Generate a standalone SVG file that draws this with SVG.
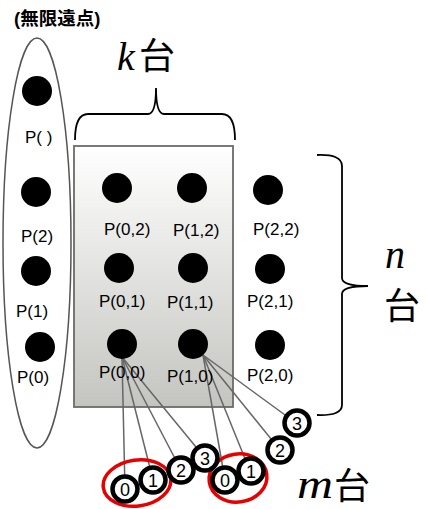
<svg xmlns="http://www.w3.org/2000/svg" width="427" height="509" viewBox="0 0 427 509">
<defs>
<linearGradient id="g" x1="0" y1="0" x2="0" y2="1">
<stop offset="0" stop-color="#ffffff"/>
<stop offset="1" stop-color="#c4c4c0"/>
</linearGradient>
<style>
.lbl{font-family:"Liberation Sans",Arial,sans-serif;font-size:17px;fill:#000}
.dot{fill:#000}
.num{fill:#fff;stroke:#000;stroke-width:4.5}
.numt{font-family:"Liberation Sans",Arial,sans-serif;font-size:18px;text-anchor:middle;fill:#000}
.conn{stroke:#666;stroke-width:1.5;fill:none}
.brace{stroke:#000;stroke-width:1.8;fill:none}
.math{font-family:"Liberation Serif","Times New Roman",serif;font-style:italic;font-size:40px;fill:#000}
.cjk{font-family:"Noto Sans CJK JP","Noto Sans CJK SC",sans-serif;font-size:36px;fill:#000}
.red{fill:none;stroke:#e60000;stroke-width:3.5}
</style>
</defs>
<rect width="427" height="509" fill="#fff"/>
<text x="14" y="25" style="font-family:'Liberation Sans','Noto Sans CJK JP',sans-serif;font-size:18.5px;font-weight:bold">(無限遠点)</text>
<g id="infinity-group">
<ellipse cx="37" cy="243" rx="34" ry="205" fill="none" stroke="#555" stroke-width="1.5"/>
</g>
<g id="k-box">
<rect x="74" y="146" width="159" height="261" fill="url(#g)" stroke="#6b6b68" stroke-width="1.8"/>
</g>
<g id="braces">
<path class="brace" d="M75,140 Q75,114 88,114 L148,114 Q156,114 156,88 Q156,114 164,114 L222,114 Q235,114 235,140"/>
<path class="brace" d="M317,155 Q342,154 342,166 L342,278 Q342,286 368,286 Q342,286 342,294 L342,405 Q342,416 317,415"/>
</g>
<g id="label-k">
<text class="math" x="117" y="70">k</text>
<text class="cjk" x="139" y="69">台</text>
</g>
<g id="label-n">
<text class="math" x="385" y="268">n</text>
<text class="cjk" x="384" y="319">台</text>
</g>
<g id="label-m">
<text class="math" x="297" y="498" textLength="36" lengthAdjust="spacingAndGlyphs">m</text>
<text class="cjk" x="334" y="499">台</text>
</g>
<g id="connectors">
<line class="conn" x1="122" y1="357" x2="125" y2="490"/>
<line class="conn" x1="122" y1="357" x2="153" y2="480"/>
<line class="conn" x1="122" y1="357" x2="181" y2="470"/>
<line class="conn" x1="122" y1="357" x2="205" y2="458"/>
<line class="conn" x1="203" y1="355" x2="225" y2="480"/>
<line class="conn" x1="203" y1="355" x2="250" y2="471"/>
<line class="conn" x1="203" y1="355" x2="280" y2="450"/>
<line class="conn" x1="203" y1="355" x2="296" y2="423"/>
</g>
<g id="P-inf"><circle class="dot" cx="37" cy="91" r="15"/><text class="lbl" x="25" y="143">P( )</text></g>
<g id="P2"><circle class="dot" cx="36" cy="192" r="15"/><text class="lbl" x="21" y="242">P(2)</text></g>
<g id="P1"><circle class="dot" cx="36" cy="271" r="15"/><text class="lbl" x="16" y="317">P(1)</text></g>
<g id="P0"><circle class="dot" cx="40" cy="347" r="15"/><text class="lbl" x="17" y="383">P(0)</text></g>
<g id="P02"><circle class="dot" cx="117" cy="188" r="15"/><text class="lbl" x="104" y="235">P(0,2)</text></g>
<g id="P12"><circle class="dot" cx="192" cy="188" r="15"/><text class="lbl" x="173" y="236">P(1,2)</text></g>
<g id="P22"><circle class="dot" cx="268" cy="190" r="15"/><text class="lbl" x="253" y="235">P(2,2)</text></g>
<g id="P01"><circle class="dot" cx="119" cy="268" r="15"/><text class="lbl" x="99" y="307">P(0,1)</text></g>
<g id="P11"><circle class="dot" cx="193" cy="268" r="15"/><text class="lbl" x="167" y="308">P(1,1)</text></g>
<g id="P21"><circle class="dot" cx="270" cy="269" r="15"/><text class="lbl" x="247" y="307">P(2,1)</text></g>
<g id="P00"><circle class="dot" cx="122" cy="344" r="15"/><text class="lbl" x="99" y="378">P(0,0)</text></g>
<g id="P10"><circle class="dot" cx="193" cy="344" r="15"/><text class="lbl" x="167" y="382">P(1,0)</text></g>
<g id="P20"><circle class="dot" cx="270" cy="345" r="15"/><text class="lbl" x="247" y="381">P(2,0)</text></g>
<g id="group-0"><ellipse class="red" cx="137" cy="483" rx="34" ry="23" transform="rotate(-8 137 483)"/></g>
<g id="group-1"><ellipse class="red" cx="238" cy="478" rx="29" ry="24" transform="rotate(-8 238 478)"/></g>
<g id="m00"><circle class="num" cx="125" cy="489" r="12.5"/><text class="numt" x="125" y="496">0</text></g>
<g id="m01"><circle class="num" cx="153" cy="480" r="12.5"/><text class="numt" x="153" y="487">1</text></g>
<g id="m02"><circle class="num" cx="181" cy="470" r="12.5"/><text class="numt" x="181" y="477">2</text></g>
<g id="m03"><circle class="num" cx="205" cy="458" r="12.5"/><text class="numt" x="205" y="465">3</text></g>
<g id="m10"><circle class="num" cx="225" cy="480" r="12.5"/><text class="numt" x="225" y="487">0</text></g>
<g id="m11"><circle class="num" cx="251" cy="471" r="12.5"/><text class="numt" x="251" y="478">1</text></g>
<g id="m12"><circle class="num" cx="280" cy="450" r="12.5"/><text class="numt" x="280" y="457">2</text></g>
<g id="m13"><circle class="num" cx="297" cy="423" r="12.5"/><text class="numt" x="297" y="430">3</text></g>
</svg>
